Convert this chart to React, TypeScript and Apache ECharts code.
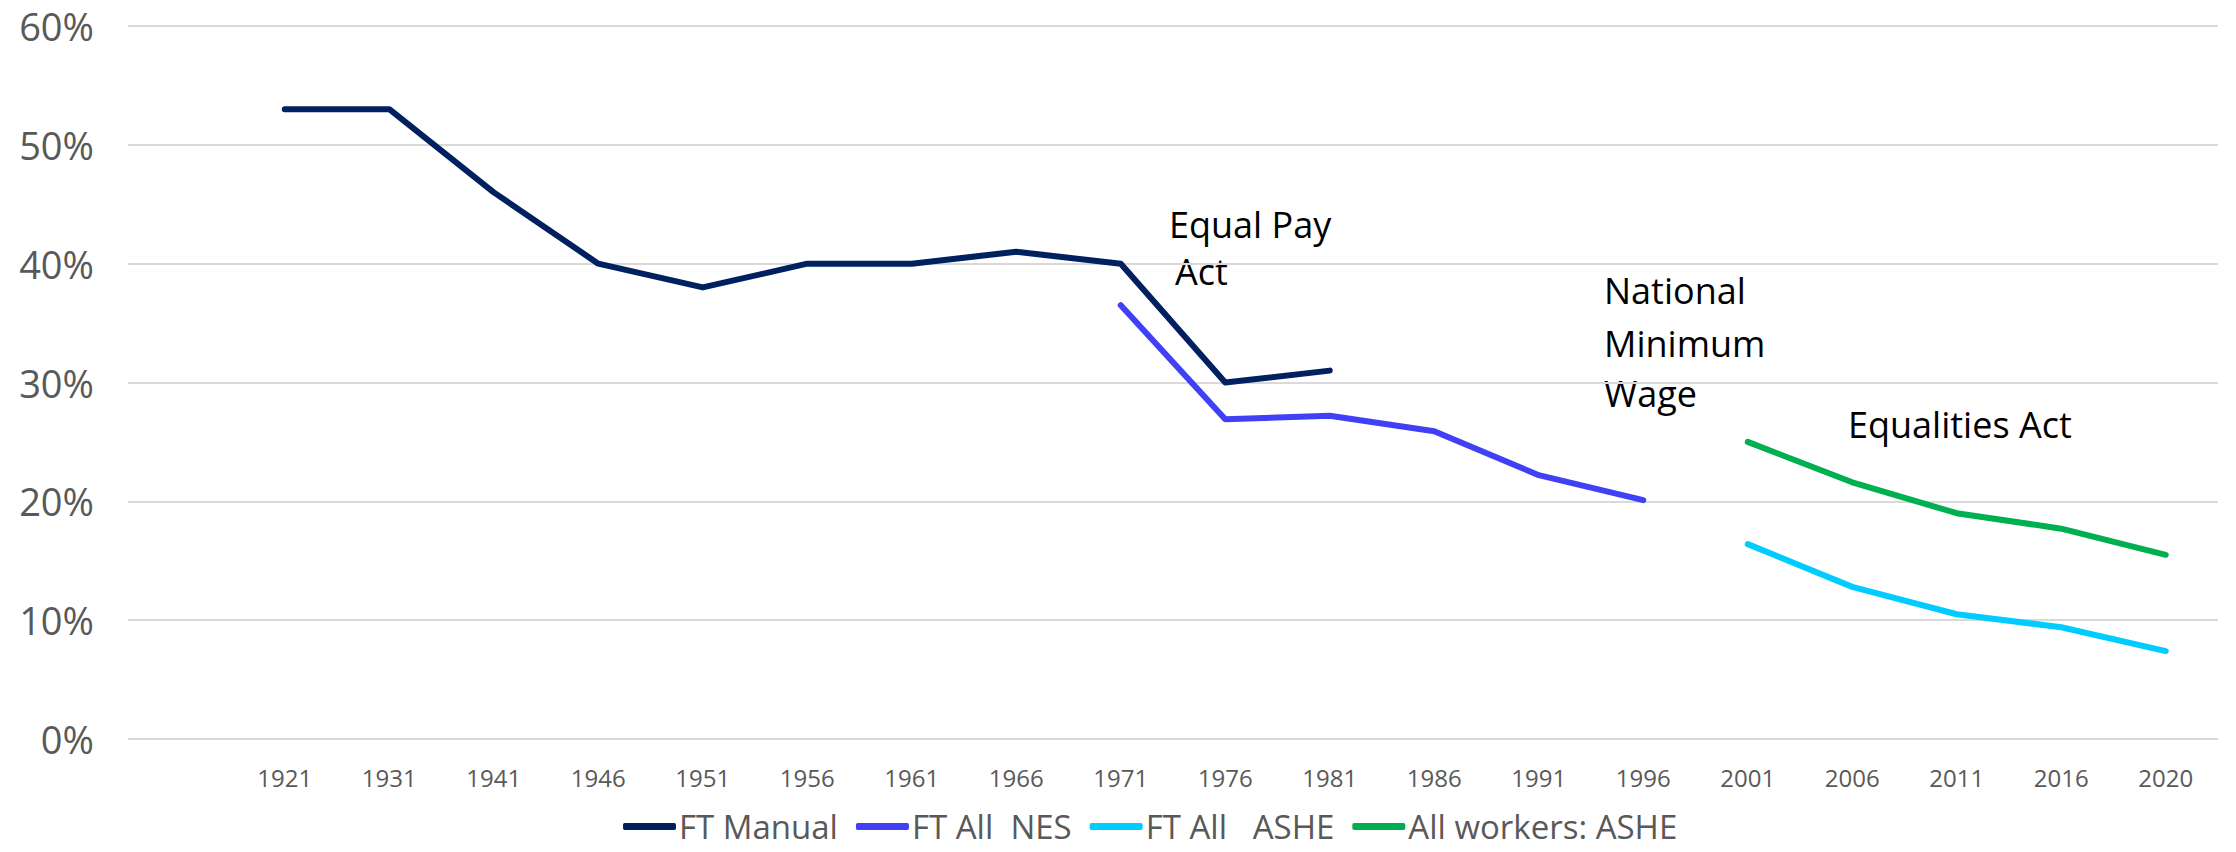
import React, { useEffect, useRef } from "react";
import * as echarts from "echarts";

const years = ["", "1921", "1931", "1941", "1946", "1951", "1956", "1961", "1966", "1971", "1976", "1981", "1986", "1991", "1996", "2001", "2006", "2011", "2016", "2020"];
const ftManual = [null, 53, 53, 46, 40, 38, 40, 40, 41, 40, 30, 31, null, null, null, null, null, null, null, null];
const ftAllNes = [null, null, null, null, null, null, null, null, null, 36.5, 26.9, 27.2, 25.9, 22.2, 20.1, null, null, null, null, null];
const ftAllAshe = [null, null, null, null, null, null, null, null, null, null, null, null, null, null, null, 16.4, 12.8, 10.5, 9.4, 7.4];
const allWorkersAshe = [null, null, null, null, null, null, null, null, null, null, null, null, null, null, null, 25.0, 21.6, 19.0, 17.7, 15.5];

const seriesNames = ["FT Manual", "FT All  NES", "FT All   ASHE", "All workers: ASHE"];
const seriesColors = ["#002060", "#4040F5", "#00CCFF", "#00B050"];

const FONT = "'Open Sans', 'Noto Sans', sans-serif";

export default function App() {
  const ref = useRef<HTMLDivElement>(null);
  useEffect(() => {
    if (!ref.current) return;
    const chart = echarts.init(ref.current, null, { renderer: "svg" });
    const data = [ftManual, ftAllNes, ftAllAshe, allWorkersAshe];
    chart.setOption({
      animation: false,
      backgroundColor: "#ffffff",
      textStyle: { fontFamily: FONT },
      grid: { left: 128, right: 18, top: 26, bottom: 113, containLabel: false },
      legend: {
        left: 618,
        top: 805,
        itemGap: 18,
        itemWidth: 53,
        itemHeight: 7,
        icon: "roundRect",
        textStyle: { fontFamily: FONT, fontSize: 33, color: "#595959", padding: [0, 0, 0, -2] },
        data: seriesNames,
      },
      xAxis: {
        type: "category",
        data: years,
        boundaryGap: true,
        axisLine: { show: false },
        axisTick: { show: false },
        axisLabel: { interval: 0, fontFamily: FONT, fontSize: 24, color: "#595959", margin: 26 },
      },
      yAxis: {
        type: "value",
        min: 0,
        max: 60,
        interval: 10,
        axisLine: { show: false },
        axisTick: { show: false },
        axisLabel: { formatter: "{value}%", fontFamily: FONT, fontSize: 38, color: "#595959", margin: 34 },
        splitLine: { lineStyle: { color: "#D9D9D9", width: 2 } },
      },
      series: data.map((d, i) => ({
        name: seriesNames[i],
        type: "line",
        data: d,
        symbol: "none",
        connectNulls: false,
        lineStyle: { color: seriesColors[i], width: 6, cap: "round", join: "round" },
        itemStyle: { color: seriesColors[i] },
      })),
      graphic: [
        { type: "text", x: 1169, y: 224, style: { text: "Equal Pay", font: `36px ${FONT}`, fill: "#000000", align: "left", verticalAlign: "middle" } },
        { type: "text", x: 1175, y: 271, style: { text: "Act", font: `36px ${FONT}`, fill: "#000000", align: "left", verticalAlign: "middle" } },
        { type: "text", x: 1604, y: 290, style: { text: "National", font: `36px ${FONT}`, fill: "#000000", align: "left", verticalAlign: "middle" } },
        { type: "text", x: 1604, y: 343, style: { text: "Minimum", font: `36px ${FONT}`, fill: "#000000", align: "left", verticalAlign: "middle" } },
        { type: "text", x: 1604, y: 393, style: { text: "Wage", font: `36px ${FONT}`, fill: "#000000", align: "left", verticalAlign: "middle" } },
        { type: "text", x: 1848, y: 424, style: { text: "Equalities Act", font: `36px ${FONT}`, fill: "#000000", align: "left", verticalAlign: "middle" } },
      ],
    });
    return () => chart.dispose();
  }, []);
  return <div ref={ref} style={{ position: "fixed", left: 0, top: 0, width: 2236, height: 852 }} />;
}
